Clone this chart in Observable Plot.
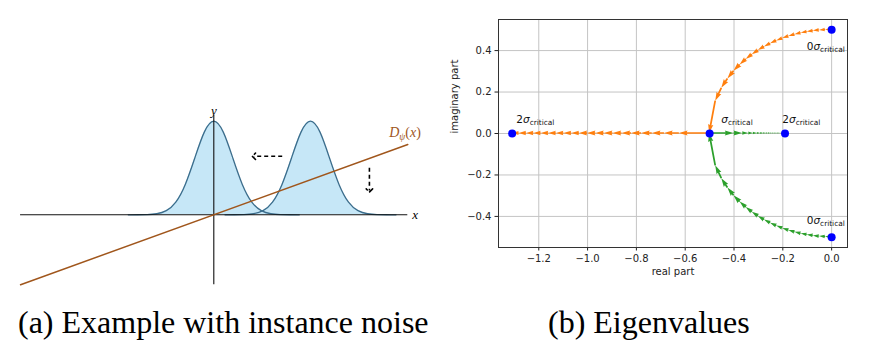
<!DOCTYPE html>
<html><head><meta charset="utf-8">
<script src="https://cdn.jsdelivr.net/npm/d3@7"></script>
<script src="https://cdn.jsdelivr.net/npm/@observablehq/plot@0.6"></script>
<style>
html,body{margin:0;padding:0;background:#fff;width:886px;height:356px;overflow:hidden;}
#root{position:relative;width:886px;height:356px;}
#pa{position:absolute;left:0;top:90px;}
#pb{position:absolute;left:440px;top:0;}
.cap{position:absolute;font-family:"Liberation Serif","Times New Roman",serif;font-size:32px;line-height:32px;color:#000;white-space:nowrap;}
</style></head><body>
<div id="root"><div id="pa"></div><div id="pb"></div>
<div class="cap" id="capA" style="left:18px;top:306px"></div>
<div class="cap" id="capB" style="left:548px;top:306px"></div></div>
<script>
// ---------- captions ----------
const captions = ["(a) Example with instance noise", "(b) Eigenvalues"];

// ---------- panel (a): illustration data (units of the bell's std. dev.) ----------
const bellOffsets = [-4.5,-4,-3.5,-3,-2.5,-2,-1.5,-1,-0.5,0,0.5,1,1.5,2,2.5,3,3.5,4,4.5];
const bellShape   = [0.0000,0.0003,0.0022,0.0111,0.0439,0.1353,0.3247,0.6065,0.8825,1,0.8825,0.6065,0.3247,0.1353,0.0439,0.0111,0.0022,0.0003,0.0000];
const bellCenters = [0, 5.09];
const bellPeak = 4.93;
const xAxisExtent = [-10.17, 10.21];
const yAxisExtent = [-3.68, 5.23];
const discLineU = [-10.17, 10.21];
const discLineV = [-3.68, 3.70];
const moveArrowU1 = [3.60, 8.19], moveArrowV1 = [3.08, 2.47];
const moveArrowU2 = [2.11, 8.19], moveArrowV2 = [3.08, 1.28];
const axisLabels = ["x", "y"], axisLabelU = [10.6, 0], axisLabelV = [0, 5.45];
const discLabelU = 9.26, discLabelV = 4.08;

// ---------- panel (b): eigenvalue data ----------
const realTicks = [-1.2,-1.0,-0.8,-0.6,-0.4,-0.2,0.0];
const imagTicks = [-0.4,-0.2,0.0,0.2,0.4];
const arcRe = [0,-0.025,-0.05,-0.075,-0.1,-0.125,-0.15,-0.175,-0.2,-0.225,-0.25,-0.275,-0.3,-0.325,-0.35,-0.375,-0.4,-0.425,-0.45,-0.475,-0.5];
const arcIm = [0.5,0.4994,0.4975,0.4943,0.4899,0.4841,0.4770,0.4684,0.4583,0.4465,0.4330,0.4176,0.4,0.3800,0.3571,0.3307,0.3,0.2634,0.2179,0.1561,0];
const orangeLineRe = [-0.5,-0.624,-0.685,-0.735,-0.779,-0.820,-0.859,-0.896,-0.932,-0.966,-1.0,-1.033,-1.065,-1.097,-1.128,-1.159,-1.190,-1.220,-1.250,-1.280,-1.309];
const greenLineRe  = [-0.5,-0.400,-0.365,-0.340,-0.321,-0.305,-0.291,-0.279,-0.268,-0.259,-0.250,-0.242,-0.235,-0.228,-0.222,-0.216,-0.210,-0.205,-0.200,-0.195,-0.191];
const pointRe = [-1.309,-0.5,-0.191,0,0];
const pointIm = [0,0,0,0.5,-0.5];
const labelRe = [-1.29,-0.45,-0.2,-0.1,-0.1];
const labelIm = [0.05,0.05,0.05,0.40,-0.44];
const labelPrefix = ["2","","2","0","0"];

document.getElementById("capA").textContent = captions[0];
document.getElementById("capB").textContent = captions[1];

// ---------- panel (a) ----------
const bells = bellCenters.map(c => bellOffsets.map((o, i) => ({u: c + o, v: bellShape[i] * bellPeak})));
const fillBlue = "#c6e7f7", strokeBlue = "#3b6d8c", brown = "#a0561c";

const discLabel = (index, scales) => {
  const g = d3.create("svg:g").attr("font-family", "Liberation Serif, DejaVu Serif, serif").attr("fill", brown).attr("text-anchor", "start");
  const t = g.append("text").attr("x", scales.x(discLabelU)).attr("y", scales.y(discLabelV)).attr("font-size", 14).attr("text-anchor", "start");
  t.append("tspan").attr("font-style", "italic").text("D");
  t.append("tspan").attr("font-style", "italic").attr("font-size", 9.5).attr("dy", 3).text("ψ");
  t.append("tspan").attr("dy", -3).text("(");
  t.append("tspan").attr("font-style", "italic").text("x");
  t.append("tspan").text(")");
  return g.node();
};

const plotA = Plot.plot({
  width: 430, height: 200,
  marginLeft: 0, marginRight: 0, marginTop: 0, marginBottom: 0,
  x: {domain: [-11.226, 11.405], axis: null},
  y: {domain: [-3.984, 6.542], axis: null},
  marks: [
    ...bells.map(b => Plot.areaY(b, {x: "u", y: "v", fill: fillBlue, curve: "natural"})),
    ...bells.map(b => Plot.line(b, {x: "u", y: "v", stroke: strokeBlue, strokeWidth: 1.3, curve: "natural"})),
    Plot.ruleY([0], {x1: xAxisExtent[0], x2: xAxisExtent[1], stroke: "#111", strokeWidth: 1.1}),
    Plot.ruleX([0], {y1: yAxisExtent[0], y2: yAxisExtent[1], stroke: "#111", strokeWidth: 1.1}),
    Plot.line(discLineU.map((u, i) => [u, discLineV[i]]), {stroke: brown, strokeWidth: 1.5}),
    Plot.link([0, 1], {x1: i => moveArrowU1[i], y1: i => moveArrowV1[i], x2: i => moveArrowU2[i], y2: i => moveArrowV2[i],
      stroke: "#000", strokeWidth: 1.6, strokeDasharray: "4,3", markerEnd: "arrow"}),
    Plot.text(axisLabels, {x: (d, i) => axisLabelU[i], y: (d, i) => axisLabelV[i], text: d => d,
      fontFamily: "Liberation Serif, DejaVu Serif, serif", fontStyle: "italic", fontSize: 13, fill: "#000"}),
    discLabel
  ]
});
document.getElementById("pa").appendChild(plotA);

// ---------- panel (b) ----------
const orangePath = arcRe.map((r, i) => [r, arcIm[i]]).concat(orangeLineRe.slice(1).map(r => [r, 0]));
const greenPath = arcRe.map((r, i) => [r, -arcIm[i]]).concat(greenLineRe.slice(1).map(r => [r, 0]));
const paths = [{pts: orangePath, color: "#ff7f0e"}, {pts: greenPath, color: "#2ca02c"}];

const quiver = (index, scales, values, dims) => {
  const g = d3.create("svg:g");
  const w = 0.005 * (dims.width - dims.marginLeft - dims.marginRight);
  const hl = 5 * w, hal = 4.5 * w, hw = 3 * w;
  for (const {pts, color} of paths) {
    for (let i = 0; i < pts.length - 1; i++) {
      const x0 = scales.x(pts[i][0]), y0 = scales.y(pts[i][1]);
      const x1 = scales.x(pts[i + 1][0]), y1 = scales.y(pts[i + 1][1]);
      const L = Math.hypot(x1 - x0, y1 - y0);
      if (L < 0.05) continue;
      const k = L < hl ? L / hl : 1;
      const Ls = L / k;
      const shape = [[0, -w / 2], [Ls - hal, -w / 2], [Ls - hl, -hw / 2], [Ls, 0], [Ls - hl, hw / 2], [Ls - hal, w / 2], [0, w / 2]];
      const a = Math.atan2(y1 - y0, x1 - x0), c = Math.cos(a), s = Math.sin(a);
      const d = "M" + shape.map(([p, q]) => [x0 + k * (p * c - q * s), y0 + k * (p * s + q * c)].map(v => v.toFixed(2)).join(",")).join("L") + "Z";
      g.append("path").attr("d", d).attr("fill", color);
    }
  }
  return g.node();
};

const sigmaLabels = (index, scales) => {
  const g = d3.create("svg:g").attr("font-family", "DejaVu Sans, sans-serif").attr("fill", "#111").attr("text-anchor", "start");
  labelRe.forEach((re, i) => {
    const t = g.append("text").attr("x", scales.x(re)).attr("y", scales.y(labelIm[i])).attr("font-size", 10.5).attr("text-anchor", "start");
    if (labelPrefix[i]) t.append("tspan").text(labelPrefix[i]);
    t.append("tspan").attr("font-style", "italic").text("σ");
    t.append("tspan").attr("font-size", 7.4).attr("dy", 2).text("critical");
  });
  return g.node();
};

const fmt = d => (d < 0 ? "\u2212" : "") + Math.abs(d).toFixed(1);

const plotB = Plot.plot({
  width: 446, height: 290,
  marginLeft: 58, marginRight: 39, marginTop: 19, marginBottom: 43,
  style: {fontFamily: "DejaVu Sans, sans-serif", fontSize: "10px", color: "#222", background: "transparent"},
  x: {domain: [-1.365, 0.065], ticks: realTicks, tickFormat: fmt, tickSize: 3.5, tickPadding: 3.5, label: null},
  y: {domain: [-0.55, 0.55], ticks: imagTicks, tickFormat: fmt, tickSize: 3.5, tickPadding: 3.5, label: null},
  marks: [
    Plot.ruleX(realTicks, {stroke: "#c4c4c4", strokeWidth: 1}),
    Plot.ruleY(imagTicks, {stroke: "#c4c4c4", strokeWidth: 1}),
    quiver,
    Plot.dot(pointRe.map((r, i) => [r, pointIm[i]]), {r: 4, fill: "#0000ff", stroke: "none"}),
    sigmaLabels,
    Plot.frame({stroke: "#333", strokeWidth: 1}),
    Plot.text(["real part"], {frameAnchor: "bottom", dy: 27, fontSize: 10, fill: "#222"}),
    Plot.text(["imaginary part"], {frameAnchor: "left", dx: -44, rotate: -90, fontSize: 10, fill: "#222"})
  ]
});
document.getElementById("pb").appendChild(plotB);
</script>
</body></html>
